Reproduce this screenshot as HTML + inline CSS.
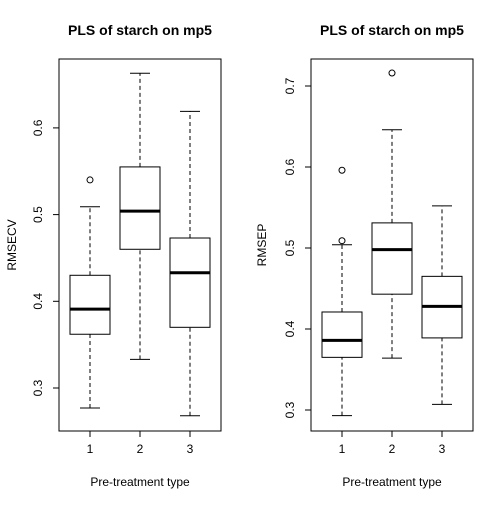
<!DOCTYPE html>
<html><head><meta charset="utf-8"><style>
body{margin:0;background:#fff}
svg text{font-family:"Liberation Sans",sans-serif;font-size:12px;fill:#000}
</style></head><body>
<svg width="504" height="504" xmlns="http://www.w3.org/2000/svg">
<g id="root"></g>
</svg>
<script>
const categories=["1","2","3"];
const leftStats=[[0.277,0.362,0.391,0.430,0.509],[0.333,0.460,0.504,0.555,0.663],[0.268,0.370,0.433,0.473,0.619]];
const leftOutliers=[[0.540],[],[]];
const leftTicks=[0.3,0.4,0.5,0.6];
const rightStats=[[0.293,0.365,0.386,0.421,0.504],[0.364,0.443,0.498,0.531,0.646],[0.307,0.389,0.428,0.465,0.552]];
const rightOutliers=[[0.509,0.596],[0.716],[]];
const rightTicks=[0.3,0.4,0.5,0.6,0.7];
const NS="http://www.w3.org/2000/svg";
const root=document.getElementById('root');
function el(t,a,p){const e=document.createElementNS(NS,t);for(const k in a)e.setAttribute(k,a[k]);(p||root).appendChild(e);return e;}
function panel(name,x0,x1,y0,y1,yAt,stats,outs,ticks,title,ylab,ylabX){
 const g=el('g',{});
 
 const box=el('rect',{x:x0,y:y0,width:x1-x0,height:y1-y0,fill:'none',stroke:'#000'},g);
 
 const ax=el('g',{},g);
 el('line',{x1:x0,x2:x0,y1:yAt(ticks[0]),y2:yAt(ticks[ticks.length-1]),stroke:'#000'},ax);
 ticks.forEach(t=>{const y=yAt(t);el('line',{x1:x0-6,x2:x0,y1:y,y2:y,stroke:'#000'},ax);
  const tx=el('text',{x:x0-17,y:y,'text-anchor':'middle',transform:`rotate(-90 ${x0-17} ${y})`},ax);tx.textContent=String(t);
  });
 const xa=el('g',{},g);
 const cx=i=>x0+31+i*50;
 el('line',{x1:cx(0),x2:cx(2),y1:y1,y2:y1,stroke:'#000'},xa);
 categories.forEach((c,i)=>{el('line',{x1:cx(i),x2:cx(i),y1:y1,y2:y1+6,stroke:'#000'},xa);
  const tx=el('text',{x:cx(i),y:y1+22,'text-anchor':'middle'},xa);tx.textContent=c;
  });
 stats.forEach((s,i)=>{const b=el('g',{},g);
  const c=cx(i),w=20;
  el('line',{x1:c,x2:c,y1:yAt(s[0]),y2:yAt(s[1]),stroke:'#000','stroke-dasharray':'4,3'},b);
  el('line',{x1:c,x2:c,y1:yAt(s[3]),y2:yAt(s[4]),stroke:'#000','stroke-dasharray':'4,3'},b);
  el('line',{x1:c-10,x2:c+10,y1:yAt(s[0]),y2:yAt(s[0]),stroke:'#000'},b);
  el('line',{x1:c-10,x2:c+10,y1:yAt(s[4]),y2:yAt(s[4]),stroke:'#000'},b);
  el('rect',{x:c-w,y:yAt(s[3]),width:2*w,height:yAt(s[1])-yAt(s[3]),fill:'#fff',stroke:'#000'},b);
  el('line',{x1:c-w,x2:c+w,y1:yAt(s[2]),y2:yAt(s[2]),stroke:'#000','stroke-width':3},b);
  outs[i].forEach(o=>{const p=el('circle',{cx:c,cy:yAt(o),r:3,fill:'none',stroke:'#000'},b);
   });});
 const t=el('text',{x:(x0+x1)/2,y:35,'text-anchor':'middle','font-weight':'bold'},g);t.textContent=title;
 t.style.fontSize='14px';
 const xl=el('text',{x:(x0+x1)/2,y:486,'text-anchor':'middle'},g);xl.textContent='Pre-treatment type';
 
 const yl=el('text',{x:ylabX,y:(y0+y1)/2,'text-anchor':'middle',transform:`rotate(-90 ${ylabX} ${(y0+y1)/2})`},g);yl.textContent=ylab;
 
}
panel('left',59,221,59,431,v=>388-(v-0.3)*867,leftStats,leftOutliers,leftTicks,'PLS of starch on mp5','RMSECV',16);
panel('right',311,473,59,431,v=>410-(v-0.3)*810,rightStats,rightOutliers,rightTicks,'PLS of starch on mp5','RMSEP',266);
</script>
</body></html>
